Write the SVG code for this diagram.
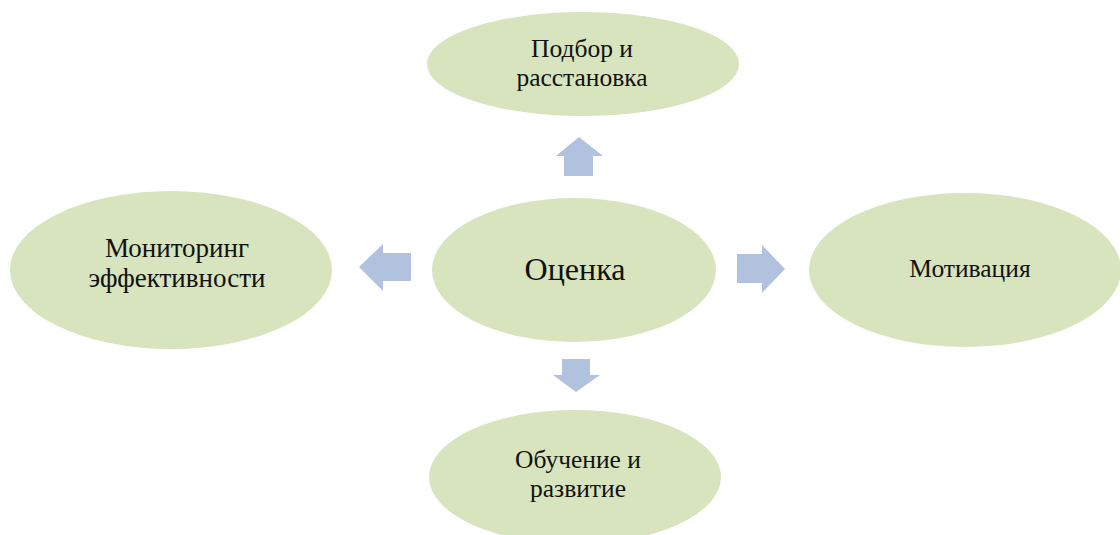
<svg xmlns="http://www.w3.org/2000/svg" width="1120" height="535" viewBox="0 0 1120 535">
<style>
.node{fill:#d7e4bd;}
.arr{fill:#b1c2de;}
text{font-family:"Liberation Serif","Times New Roman",serif;fill:#111;text-anchor:middle;font-size:25.5px;}
.big{font-size:32px;}
.lg{font-size:27px;}
</style>
<rect width="1120" height="535" fill="#ffffff"/>
<g id="connectors">
<polygon class="arr" points="564,176 564,156 556,156 579,137 603,156 593,156 593,176"/>
<polygon class="arr" points="411,253 383,253 383,244 359,267 383,291 383,281 411,281"/>
<polygon class="arr" points="737,254 762,254 762,245 785,269 762,293 762,283 737,283"/>
<polygon class="arr" points="562,359 590,359 590,375 600,375 576,392 553,375 562,375"/>
</g>
<g id="node-top">
<ellipse class="node" cx="583" cy="64" rx="156" ry="52"/>
<text x="582" y="57">Подбор и</text>
<text x="582" y="86">расстановка</text>
</g>
<g id="node-center">
<ellipse class="node" cx="574" cy="270" rx="142" ry="72"/>
<text class="big" x="575" y="280">Оценка</text>
</g>
<g id="node-left">
<ellipse class="node" cx="171" cy="270" rx="161" ry="79"/>
<text class="lg" x="177" y="257">Мониторинг</text>
<text class="lg" x="177" y="287">эффективности</text>
</g>
<g id="node-right">
<ellipse class="node" cx="965" cy="270" rx="156" ry="77"/>
<text x="970" y="277">Мотивация</text>
</g>
<g id="node-bottom">
<ellipse class="node" cx="575" cy="477" rx="146" ry="67"/>
<text x="578" y="468">Обучение и</text>
<text x="578" y="497">развитие</text>
</g>
</svg>
